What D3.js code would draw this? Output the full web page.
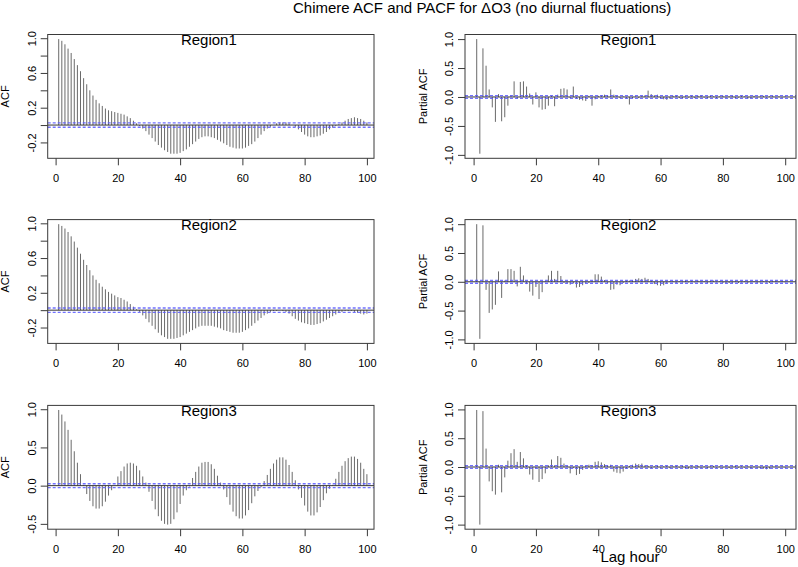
<!DOCTYPE html>
<html>
<head>
<meta charset="utf-8">
<script src="https://cdn.jsdelivr.net/npm/d3@7"></script>
<style>
  html, body { margin: 0; padding: 0; background: #fff; }
  svg { display: block; font-family: "Liberation Sans", Arial, sans-serif; }
</style>
</head>
<body>
<svg id="chart" width="798" height="567"></svg>
<script>
// ---------------- DATA ----------------
const lags = d3.range(1, 101);
const regionNames = ["Region1", "Region2", "Region3"];
const chartTitle = "Chimere ACF and PACF for \u0394O3 (no diurnal fluctuations)";
const xAxisTitle = "Lag hour";
const xTicks = [0, 20, 40, 60, 80, 100];
const clim = 0.025;

const acfRegion1 = [
  0.99, 0.97, 0.93, 0.88, 0.83, 0.76, 0.69, 0.62, 0.54, 0.47,
  0.40, 0.34, 0.29, 0.25, 0.22, 0.19, 0.17, 0.16, 0.15, 0.14,
  0.13, 0.12, 0.10, 0.08, 0.05, 0.02, -0.01, -0.04, -0.07, -0.11,
  -0.15, -0.19, -0.23, -0.26, -0.29, -0.31, -0.33, -0.33, -0.33, -0.32,
  -0.30, -0.28, -0.25, -0.22, -0.19, -0.16, -0.14, -0.13, -0.13, -0.14,
  -0.15, -0.17, -0.19, -0.21, -0.23, -0.25, -0.26, -0.27, -0.27, -0.27,
  -0.26, -0.24, -0.22, -0.19, -0.15, -0.11, -0.07, -0.04, -0.02, 0.00,
  0.02, 0.03, 0.03, 0.03, 0.02, 0.00, -0.02, -0.05, -0.08, -0.11,
  -0.13, -0.14, -0.14, -0.13, -0.12, -0.10, -0.08, -0.05, -0.03, -0.01,
  0.01, 0.03, 0.05, 0.07, 0.08, 0.09, 0.08, 0.07, 0.05, 0.03
];
const acfRegion2 = [
  0.99, 0.97, 0.94, 0.90, 0.85, 0.79, 0.72, 0.65, 0.58, 0.52,
  0.46, 0.40, 0.35, 0.31, 0.27, 0.24, 0.21, 0.19, 0.17, 0.15,
  0.14, 0.12, 0.10, 0.07, 0.04, 0.01, -0.02, -0.06, -0.10, -0.14,
  -0.18, -0.22, -0.26, -0.29, -0.31, -0.33, -0.33, -0.33, -0.32, -0.31,
  -0.29, -0.27, -0.25, -0.23, -0.21, -0.19, -0.18, -0.18, -0.18, -0.18,
  -0.19, -0.20, -0.21, -0.23, -0.24, -0.25, -0.26, -0.26, -0.26, -0.25,
  -0.23, -0.21, -0.18, -0.15, -0.12, -0.09, -0.06, -0.04, -0.02, -0.01,
  -0.01, 0.00, -0.01, -0.02, -0.04, -0.07, -0.10, -0.12, -0.14, -0.15,
  -0.16, -0.17, -0.17, -0.16, -0.15, -0.13, -0.11, -0.09, -0.07, -0.05,
  -0.03, -0.02, -0.01, -0.01, -0.01, -0.02, -0.03, -0.04, -0.05, -0.04
];
const acfRegion3 = [
  0.99, 0.93, 0.84, 0.73, 0.60, 0.45, 0.30, 0.15, 0.01, -0.11,
  -0.20, -0.27, -0.30, -0.30, -0.27, -0.21, -0.13, -0.06, 0.00, 0.12,
  0.19, 0.25, 0.29, 0.30, 0.29, 0.26, 0.20, 0.12, 0.04, -0.08,
  -0.20, -0.31, -0.40, -0.46, -0.50, -0.51, -0.50, -0.44, -0.35, -0.24,
  -0.13, -0.06, -0.01, 0.10, 0.18, 0.25, 0.30, 0.31, 0.31, 0.28,
  0.22, 0.13, 0.04, -0.05, -0.15, -0.25, -0.34, -0.40, -0.43, -0.43,
  -0.39, -0.32, -0.23, -0.14, -0.07, -0.02, 0.06, 0.14, 0.22, 0.29,
  0.34, 0.37, 0.37, 0.34, 0.27, 0.18, 0.07, -0.05, -0.16, -0.26,
  -0.34, -0.39, -0.39, -0.35, -0.28, -0.19, -0.10, -0.04, 0.01, 0.09,
  0.18, 0.26, 0.32, 0.36, 0.38, 0.38, 0.35, 0.30, 0.22, 0.15
];
const pacfRegion1 = [
  1.00, -0.98, 0.84, 0.54, 0.13, -0.18, -0.43, 0.05, -0.42, -0.35,
  -0.15, 0.03, 0.27, -0.03, 0.26, 0.27, 0.18, 0.06, -0.13, 0.08,
  -0.18, -0.22, -0.21, -0.15, 0.02, -0.16, 0.04, 0.14, 0.15, 0.13,
  -0.02, 0.18, -0.03, -0.05, -0.06, -0.07, 0.02, -0.15, -0.04, 0.02,
  0.03, 0.04, 0.03, 0.13, 0.04, 0.02, -0.02, 0.01, -0.03, -0.13,
  -0.02, 0.01, -0.02, 0.02, 0.03, 0.11, 0.05, 0.03, 0.04, -0.02,
  -0.04, -0.05, -0.03, 0.02, 0.03, -0.02, -0.02, 0.01, -0.01, 0.02,
  -0.02, 0.02, 0.03, -0.01, -0.02, 0.02, 0.01, -0.02, 0.01, 0.02,
  -0.01, 0.01, 0.02, -0.02, -0.01, 0.02, 0.01, -0.03, -0.02, 0.02,
  -0.01, 0.01, 0.02, -0.01, 0.01, 0.02, -0.01, 0.01, -0.01, 0.01
];
const pacfRegion2 = [
  1.00, -0.99, 0.98, -0.14, -0.54, -0.48, -0.40, 0.18, -0.28, 0.02,
  0.22, 0.22, 0.19, -0.08, 0.26, 0.11, -0.04, -0.17, -0.24, -0.09,
  -0.30, -0.18, 0.01, 0.11, 0.19, 0.05, 0.19, 0.10, -0.02, -0.03,
  -0.05, -0.03, -0.10, -0.09, -0.06, -0.03, -0.02, 0.02, 0.13, 0.13,
  0.09, 0.03, -0.02, -0.14, -0.13, -0.05, -0.06, -0.02, 0.02, 0.02,
  0.03, 0.05, 0.06, 0.05, 0.07, 0.05, 0.02, -0.04, -0.06, -0.07,
  -0.06, -0.03, 0.01, 0.01, -0.02, 0.01, -0.01, 0.02, -0.01, 0.01,
  -0.01, 0.02, -0.01, 0.01, -0.02, 0.01, 0.02, -0.01, 0.01, -0.02,
  -0.03, -0.02, -0.02, 0.01, -0.02, -0.01, 0.01, -0.02, -0.01, 0.01,
  -0.02, -0.01, 0.01, -0.01, -0.02, 0.01, 0.02, -0.01, 0.01, -0.01
];
const pacfRegion3 = [
  0.99, -1.00, 0.97, 0.32, -0.25, -0.42, -0.48, 0.04, -0.44, -0.18,
  0.11, 0.24, 0.31, 0.09, 0.26, 0.15, 0.03, -0.13, -0.22, -0.03,
  -0.26, -0.21, -0.11, 0.03, 0.13, 0.03, 0.19, 0.16, 0.06, 0.02,
  -0.11, -0.02, -0.14, -0.12, -0.05, 0.02, 0.04, 0.03, 0.09, 0.10,
  0.08, 0.05, 0.03, 0.04, -0.08, -0.10, -0.11, -0.08, -0.03, 0.02,
  0.04, 0.06, 0.05, 0.06, 0.03, 0.02, -0.02, 0.01, 0.02, -0.01,
  0.01, 0.02, -0.02, 0.01, 0.02, -0.01, 0.02, -0.02, -0.03, 0.01,
  -0.01, 0.02, -0.01, 0.01, -0.02, 0.01, 0.02, -0.01, 0.01, -0.01,
  0.01, -0.02, 0.01, 0.02, -0.01, 0.01, -0.01, 0.01, -0.02, 0.01,
  -0.01, -0.02, -0.03, -0.04, -0.03, 0.01, 0.01, -0.01, 0.01, -0.01
];

const acfTicksMajor = [-0.2, 0.0, 0.2, 0.4, 0.6, 0.8, 1.0];
const acfTicksLabelled = [-0.2, 0.2, 0.6, 1.0];
const acf3Ticks = [-0.5, 0.0, 0.5, 1.0];
const pacfTicks = [-1.0, -0.5, 0.0, 0.5, 1.0];

// ---------------- LAYOUT ----------------
const svg = d3.select("#chart");
const cols = [
  { boxL: 47.7, boxR: 374, x0: 55.6, x100: 366.9, yTitle: "ACF", yTitleX: 9 },
  { boxL: 465, boxR: 796, x0: 473.6, x100: 785.2, yTitle: "Partial ACF", yTitleX: 427 }
];
const rowTops = [34.5, 219.6, 405.4];
const boxH = 123.8;

const panels = [
  { row: 0, col: 0, values: acfRegion1, ticks: acfTicksMajor, labels: acfTicksLabelled },
  { row: 1, col: 0, values: acfRegion2, ticks: acfTicksMajor, labels: acfTicksLabelled },
  { row: 2, col: 0, values: acfRegion3, ticks: acf3Ticks, labels: acf3Ticks },
  { row: 0, col: 1, values: pacfRegion1, ticks: pacfTicks, labels: pacfTicks },
  { row: 1, col: 1, values: pacfRegion2, ticks: pacfTicks, labels: pacfTicks },
  { row: 2, col: 1, values: pacfRegion3, ticks: pacfTicks, labels: pacfTicks }
];

const boxColor = "#3a3a3a";
const barColor = "#6a6a6a";
const fmt = v => v.toFixed(1);

panels.forEach(p => {
  const c = cols[p.col];
  const top = rowTops[p.row];
  const bottom = top + boxH;
  const g = svg.append("g");

  const x = d3.scaleLinear().domain([0, 100]).range([c.x0, c.x100]);
  let lo = d3.min(p.values.concat([-clim]));
  let hi = d3.max(p.values.concat([clim]));
  const pad = (hi - lo) * 0.04;
  const y = d3.scaleLinear().domain([lo - pad, hi + pad]).range([bottom, top]);

  // bars (type "h")
  g.append("g").selectAll("line").data(lags).join("line")
    .attr("x1", d => x(d)).attr("x2", d => x(d))
    .attr("y1", y(0)).attr("y2", (d, i) => y(p.values[i]))
    .attr("stroke", barColor).attr("stroke-width", 1);

  // zero line
  g.append("line")
    .attr("x1", c.boxL).attr("x2", c.boxR)
    .attr("y1", y(0)).attr("y2", y(0))
    .attr("stroke", "#333").attr("stroke-width", 1);

  // confidence lines
  [clim, -clim].forEach(v => {
    g.append("line")
      .attr("x1", c.boxL).attr("x2", c.boxR)
      .attr("y1", y(v)).attr("y2", y(v))
      .attr("stroke", "#5a5aff").attr("stroke-width", 1.3)
      .attr("stroke-dasharray", "3,2").attr("opacity", 0.85);
  });

  // box
  g.append("rect")
    .attr("x", c.boxL).attr("y", top)
    .attr("width", c.boxR - c.boxL).attr("height", boxH)
    .attr("fill", "none").attr("stroke", boxColor).attr("stroke-width", 1);

  // x axis
  const xa = g.append("g").attr("transform", `translate(0,${bottom})`)
    .call(d3.axisBottom(x).tickValues(xTicks).tickSize(7).tickFormat(d3.format("d")));
  xa.select(".domain").remove();
  xa.selectAll("line").attr("stroke", boxColor);
  xa.selectAll("text").attr("y", 24).attr("dy", 0)
    .attr("font-size", 11).attr("fill", "#000")
    .attr("font-family", "Liberation Sans, Arial, sans-serif");

  // y axis
  const ya = g.append("g").attr("transform", `translate(${c.boxL},0)`)
    .call(d3.axisLeft(y).tickValues(p.ticks).tickSize(7)
      .tickFormat(v => p.labels.some(l => Math.abs(l - v) < 1e-9) ? fmt(v) : ""));
  ya.select(".domain").remove();
  ya.selectAll("line").attr("stroke", boxColor);
  ya.selectAll("text")
    .attr("transform", "rotate(-90)")
    .attr("x", 0).attr("y", -12).attr("dy", 0)
    .attr("text-anchor", "middle")
    .attr("font-size", 11).attr("fill", "#000")
    .attr("font-family", "Liberation Sans, Arial, sans-serif");

  // y title
  svg.append("text")
    .attr("transform", `translate(${c.yTitleX},${(top + bottom) / 2}) rotate(-90)`)
    .attr("text-anchor", "middle")
    .attr("font-size", 11)
    .text(c.yTitle);

  // region label
  svg.append("text")
    .attr("x", (c.boxL + c.boxR) / 2 - 2)
    .attr("y", top + 10.8)
    .attr("text-anchor", "middle")
    .attr("font-size", 15)
    .text(regionNames[p.row]);
});

// main title
svg.append("text")
  .attr("x", 293).attr("y", 13)
  .attr("font-size", 15)
  .text(chartTitle);

// x axis title
svg.append("text")
  .attr("x", 630).attr("y", 562)
  .attr("text-anchor", "middle")
  .attr("font-size", 15)
  .text(xAxisTitle);
</script>
</body>
</html>
